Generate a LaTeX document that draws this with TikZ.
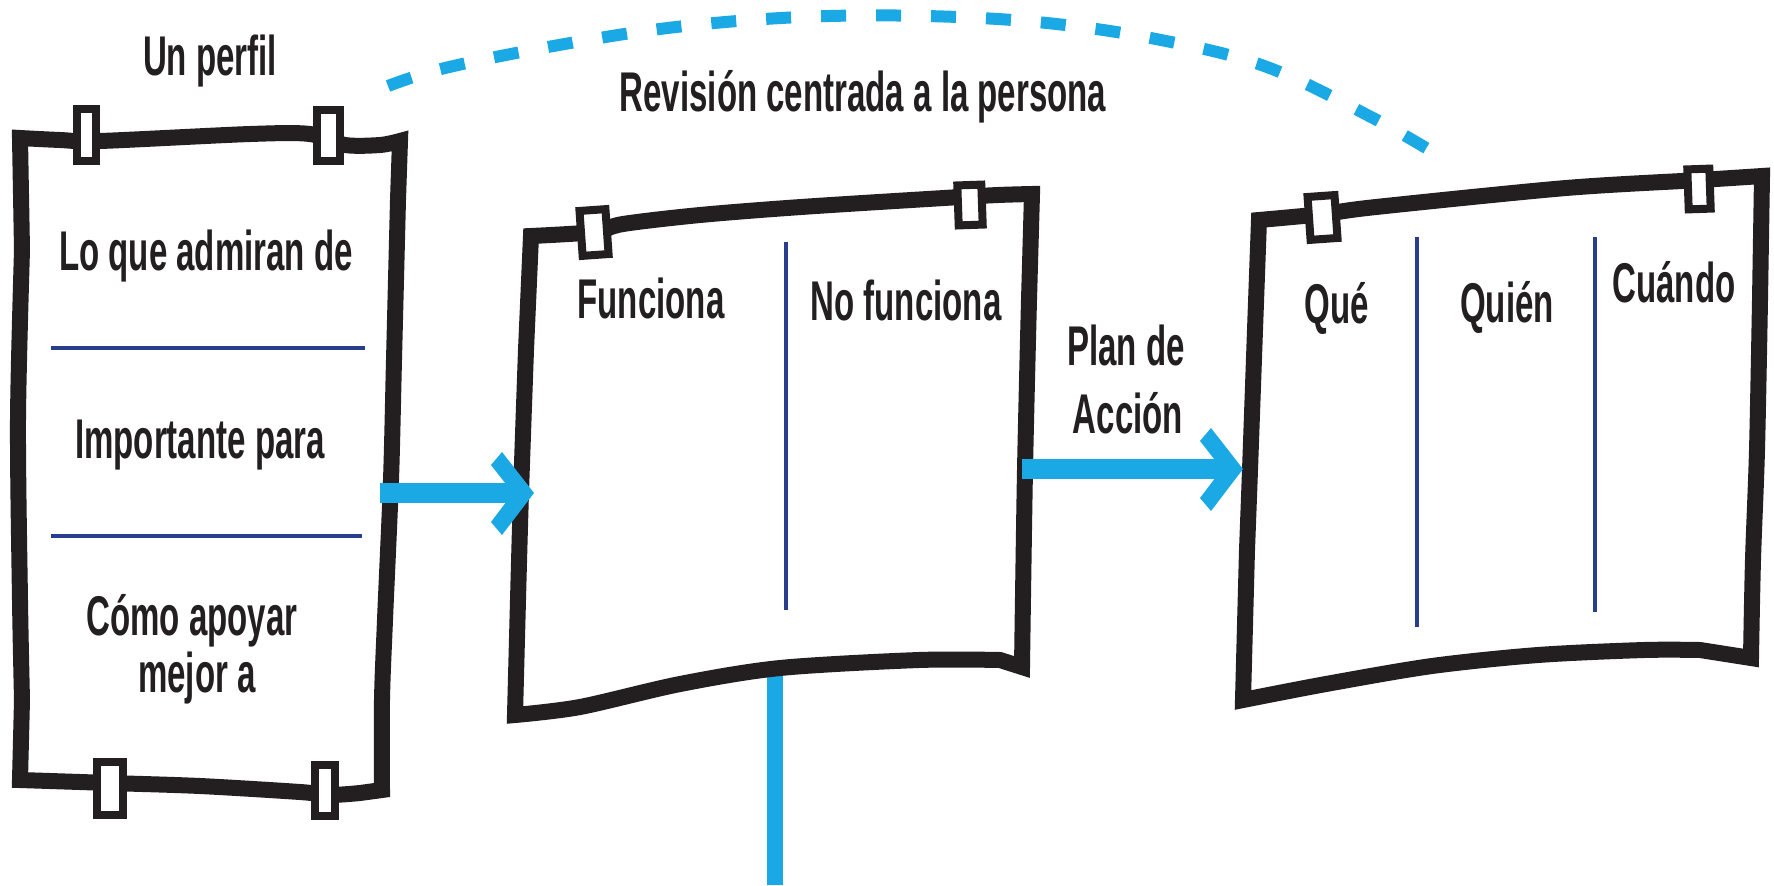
\documentclass[tikz,border=0pt]{standalone}
\usepackage{fontspec}
\newfontfamily\lbl{Liberation Sans}[FakeStretch=0.59]
\usetikzlibrary{calc}
\definecolor{ink}{RGB}{35,31,32}
\definecolor{sky}{RGB}{27,169,230}
\definecolor{navy}{RGB}{40,62,140}
\tikzset{
  txt/.style={text=ink, font=\lbl\bfseries\fontsize{28pt}{32pt}\selectfont, inner sep=0pt, anchor=base},
  frame/.style={draw=ink, line width=8pt, line join=miter, fill=white},
  tabbox/.style={draw=ink, line width=4pt, fill=white},
  rule/.style={draw=navy, line width=2pt},
  flow/.style={draw=sky, line width=10pt},
  drop/.style={draw=sky, line width=8pt},
  arcdash/.style={draw=sky, line width=6pt, dash pattern=on 12.5pt off 15pt},
  chev/.pic={\fill[sky] (-32,-41) -- (0,0) -- (-32,42) -- (-43,29) -- (-21,0) -- (-43,-28) -- cycle;}
}
\begin{document}
\begin{tikzpicture}[x=0.5pt,y=-0.5pt]
\useasboundingbox (0,0) rectangle (1774,885);
\fill[white] (0,0) rectangle (1774,885);

% named connection points
\coordinate (lpE) at (380,493);
\coordinate (mpW) at (534,493);
\coordinate (mpE) at (1022,469);
\coordinate (rpW) at (1243,469);
\coordinate (mpS) at (775,668);
\coordinate (foot) at (775,885);
\coordinate (arcA) at (388,86);
\coordinate (arcB) at (1441,157);

% vertical connector from middle panel
\draw[drop] (mpS) -- (foot);

% dashed arc
\draw[arcdash] plot[smooth, tension=0.6] coordinates {(arcA) (445,68) (559,45) (676,27) (801,17) (926,16) (1047,23) (1161,40) (1267,67) (1373,118) (arcB)};

% left panel
\draw[frame] plot[smooth] coordinates {(20,138) (60,140) (100,141) (250,134) (310,134) (345,145) (380,145) (400,141)}
  -- plot[smooth] coordinates {(398,200) (394,360) (391,480) (385,620) (382,700) (382,790)}
  -- plot[smooth] coordinates {(360,793) (330,795) (300,792) (200,786) (110,783) (20,780)}
  -- plot[smooth] coordinates {(22,700) (20,600) (18,420) (22,250)} -- cycle;
\draw[tabbox] (77,109) rectangle (96,161);
\draw[tabbox] (317,110) rectangle (340,161);
\draw[tabbox] (97,762) rectangle (123,815);
\draw[tabbox] (315,765) rectangle (335,816);
\draw[rule] (51,348) -- (365,348);
\draw[rule] (51,536) -- (362,536);

% middle panel
\draw[frame] plot[smooth] coordinates {(531,236) (594,232) (623,224) (700,215) (801,207) (944,198) (998,195) (1032,194)}
  -- plot[smooth] coordinates {(1029,300) (1025,470) (1022,667)}
  -- plot[smooth] coordinates {(1000,660) (919,660) (780,668) (680,684) (580,707) (515,715)}
  -- plot[smooth] coordinates {(518,600) (521,493) (526,350)} -- cycle;
\draw[tabbox, rotate around={4:(594,232)}] (581,210) rectangle (607,255);
\draw[tabbox, rotate around={2:(970,205)}] (958,185) rectangle (982,225);
\draw[rule] (786,242) -- (786,610);

% right panel
\draw[frame] plot[smooth] coordinates {(1259,220) (1323,214) (1376,207) (1566,188) (1700,180) (1762,176)}
  -- plot[smooth] coordinates {(1760,300) (1757,450) (1753,560) (1751,658)}
  -- plot[smooth] coordinates {(1700,650) (1644,650) (1538,655) (1432,666) (1326,684) (1243,700)}
  -- plot[smooth] coordinates {(1247,550) (1250,470) (1255,330)} -- cycle;
\draw[tabbox, rotate around={4:(1322,217)}] (1309,196) rectangle (1336,239);
\draw[tabbox, rotate around={2:(1699,189)}] (1688,169) rectangle (1710,209);
\draw[rule] (1417,237) -- (1417,627);
\draw[rule] (1595,237) -- (1595,612);

% connectors
\draw[flow, shorten >=8pt] (lpE) -- (mpW);
\pic at (mpW) {chev};
\draw[flow, shorten >=8pt] (mpE) -- (rpW);
\pic at (rpW) {chev};

% texts
\node[txt] (tPerfil) at (210,75) {Un perfil};
\node[txt] (tAdmiran) at (206,270) {Lo que admiran de};
\node[txt] (tImporta) at (200,458) {Importante para};
\node[txt] (tComo) at (192,635) {Cómo apoyar};
\node[txt] (tMejor) at (197,692) {mejor a};
\node[txt] (tRevision) at (863,111) {Revisión centrada a la persona};
\node[txt] (tFunc) at (651,318) {Funciona};
\node[txt] (tNoFunc) at (906,320) {No funciona};
\node[txt] (tPlan) at (1126,365) {Plan de};
\node[txt] (tAccion) at (1128,433) {Acción};
\node[txt] (tQue) at (1337,323) {Qué};
\node[txt] (tQuien) at (1507,322) {Quién};
\node[txt] (tCuando) at (1674,302) {Cuándo};
\end{tikzpicture}
\end{document}
